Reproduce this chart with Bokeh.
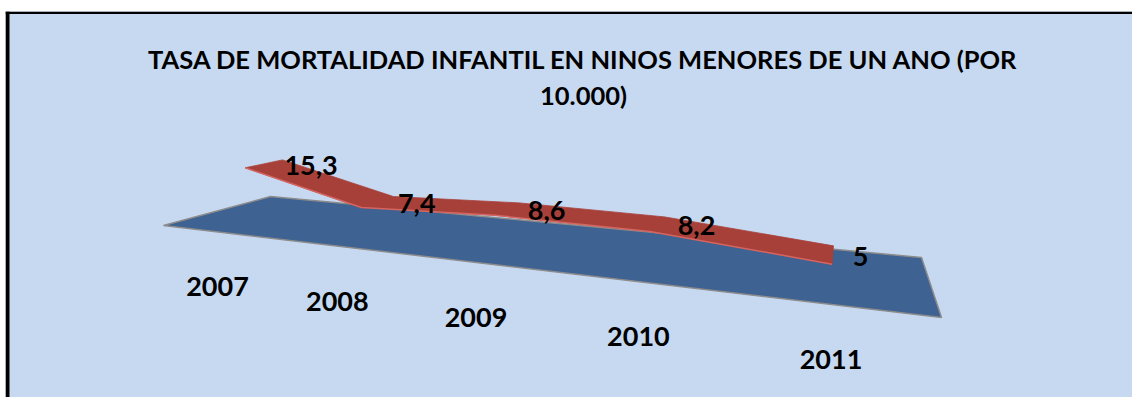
import numpy as np
from bokeh.plotting import figure
from bokeh.models import Range1d, Label
from bokeh.core.properties import value
from bokeh.embed import file_html
from bokeh.resources import INLINE

# ---------------- data ----------------
years = ["2007", "2008", "2009", "2010", "2011"]
tasa = [15.3, 7.4, 8.6, 8.2, 5.0]
title_lines = ["TASA DE MORTALIDAD INFANTIL EN NINOS MENORES DE UN ANO (POR", "10.000)"]

# ---------------- layout ----------------
W, H = 1132, 397
LEFT_PAD, TOP_PAD = 5, 11

# 3D floor corners as seen on screen: front-left, front-right, back-right, back-left
FLOOR = [(163, 225), (941, 317), (921, 257), (270, 196)]
V_FRONT, V_BACK = 0.24, 0.60      # depth band occupied by the ribbon
K_HEIGHT = 3.68                   # px per unit of value at unit perspective scale


def homography(q):
    (x0, y0), (x1, y1), (x2, y2), (x3, y3) = q
    sx = x0 - x1 + x2 - x3
    sy = y0 - y1 + y2 - y3
    dx1, dx2 = x1 - x2, x3 - x2
    dy1, dy2 = y1 - y2, y3 - y2
    det = dx1 * dy2 - dx2 * dy1
    g = (sx * dy2 - dx2 * sy) / det
    h = (dx1 * sy - sx * dy1) / det
    a, b, c = x1 - x0 + g * x1, x3 - x0 + h * x3, x0
    d, e, f = y1 - y0 + g * y1, y3 - y0 + h * y3, y0
    return a, b, c, d, e, f, g, h


HM = homography(FLOOR)


def project(u, v, z):
    a, b, c, d, e, f, g, h = HM
    u = np.asarray(u, float)
    v = np.asarray(v, float) * np.ones_like(u)
    z = np.asarray(z, float) * np.ones_like(u)
    w = g * u + h * v + 1.0
    return (a * u + b * v + c) / w, (d * u + e * v + f) / w - z * K_HEIGHT / w


n = len(years)
u_cat = (np.arange(n) + 0.5) / n
vals = np.array(tasa)

# floor
fx, fy = project([0, 1, 1, 0], [0, 0, 1, 1], 0)
# ribbon
frx, fry = project(u_cat, V_FRONT, vals)
bkx, bky = project(u_cat, V_BACK, vals)
rib_x = np.concatenate([frx, bkx[::-1]])
rib_y = np.concatenate([fry, bky[::-1]])
# label anchors
mx, my = project(u_cat, (V_FRONT + V_BACK) / 2, vals)
cx, cy = project(u_cat, 0, 0)

val_text = [f"{v:g}".replace(".", ",") for v in tasa]

p = figure(width=W, height=H, x_range=Range1d(LEFT_PAD, W), y_range=Range1d(H, TOP_PAD),
           output_backend="svg", toolbar_location=None,
           x_axis_type=None, y_axis_type=None,
           min_border_left=LEFT_PAD, min_border_right=0, min_border_bottom=0,
           min_border_top=TOP_PAD,
           background_fill_color="#C6D9F1", border_fill_color="white")
p.outline_line_color = None

# chart frame (left and top edges)
p.segment(x0=[7, LEFT_PAD], y0=[TOP_PAD, 12.3], x1=[7, W], y1=[H, 12.3],
          line_color="black", line_width=[4, 2.6])

# floor
p.patch(fx, fy, fill_color="#3E6291", line_color="#8C8C8C", line_width=1.5)

# ribbon
p.patch(rib_x, rib_y, fill_color="#A8403A", line_color="#A8403A", line_width=0.8)
p.line(frx, fry, line_color="#D46560", line_width=1.5)

font = value("Lato")
# category labels
p.text(x=cx, y=cy, text=years, text_font=font, text_font_style="bold",
       text_font_size="27px", text_align="center", text_baseline="middle",
       y_offset=55, text_color="black")
# value labels
p.text(x=mx, y=my, text=val_text, text_font=font, text_font_style="bold",
       text_font_size="27px", text_align="left", text_baseline="middle",
       x_offset=20, y_offset=2, text_color="black")

# title
for i, line in enumerate(title_lines):
    p.add_layout(Label(x=583, y=58 + 36 * i, text=line, text_align="center",
                       text_baseline="alphabetic", text_font="Lato",
                       text_font_style="bold", text_font_size="25.5px",
                       text_color="black"))

open("out.html", "w").write(file_html(p, INLINE))
